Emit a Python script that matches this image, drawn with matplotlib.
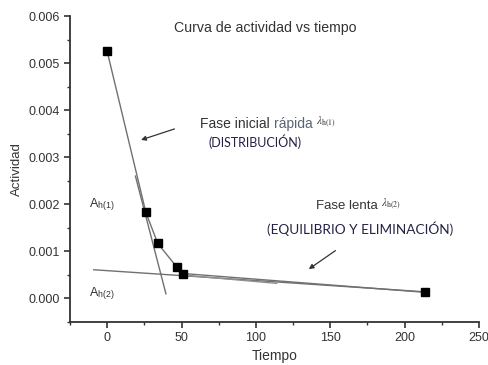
import numpy as np
import matplotlib.pyplot as plt
from matplotlib.ticker import MultipleLocator

# datos medidos
tiempo = [0, 26, 34, 47, 51, 214]
actividad = [0.00525, 0.00183, 0.00117, 0.00066, 0.00053, 0.00013]

# rectas de ajuste (fase rapida y fase lenta)
fase_rapida_t = [19, 39.5]
fase_rapida_a = [0.0026, 0.0001]
fase_lenta_t = [-9, 214]
fase_lenta_a = [0.00061, 0.00014]
fase_lenta2_t = [50, 114]
fase_lenta2_a = [0.00050, 0.00032]

plt.rcParams['font.family'] = ['Liberation Sans', 'DejaVu Sans']
plt.rcParams['mathtext.fontset'] = 'stix'

fig = plt.figure(figsize=(4.88, 3.65), dpi=100)
ax = fig.add_axes([0.1434, 0.1178, 0.9816 - 0.1434, 0.956 - 0.1178])

gris = '#707070'
ax.plot(tiempo, actividad, '-', color=gris, lw=1.0)
ax.plot(fase_rapida_t, fase_rapida_a, '-', color=gris, lw=1.0)
ax.plot(fase_lenta_t, fase_lenta_a, '-', color=gris, lw=1.0)
ax.plot(fase_lenta2_t, fase_lenta2_a, '-', color='#909090', lw=1.0)
ax.plot(tiempo, actividad, 's', color='black', ms=5.5, ls='none')

ax.set_xlim(-25, 250)
ax.set_ylim(-0.0005, 0.006)
ax.xaxis.set_major_locator(MultipleLocator(50))
ax.xaxis.set_minor_locator(MultipleLocator(25))
ax.yaxis.set_major_locator(MultipleLocator(0.001))
ax.yaxis.set_minor_locator(MultipleLocator(0.0005))
ax.yaxis.set_major_formatter(plt.FuncFormatter(lambda v, p: f'{v:.3f}'))

for s in ['top', 'right']:
    ax.spines[s].set_visible(False)
for s in ['left', 'bottom']:
    ax.spines[s].set_color('#333333')
    ax.spines[s].set_linewidth(1.3)
ax.tick_params(which='both', colors='#333333', labelsize=9, labelcolor='#333333')
ax.tick_params(which='major', length=4, width=1.2)
ax.tick_params(which='minor', length=2.5, width=1.0)

ax.set_xlabel('Tiempo', fontsize=10, color='#333333', labelpad=3)
ax.set_ylabel('Actividad', fontsize=9.5, color='#333333', labelpad=4)
fig.text(0.543, 0.912, 'Curva de actividad vs tiempo', fontsize=10.2, color='#333333',
         ha='center', va='baseline')

# anotaciones de las fases
t1 = fig.text(0.41, 0.649, 'Fase inicial ', fontsize=10, color='#333333', va='baseline')
t2 = ax.annotate('rápida ', xy=(1, 0), xycoords=t1, fontsize=10, color='#5a6474', va='bottom')
ax.annotate(r'$\lambda_{\mathrm{h(1)}}$', xy=(1, 0.05), xycoords=t2, fontsize=8, color='#333333', va='bottom')
fig.text(0.428, 0.597, '(DISTRIBUCIÓN)', family=['Lato', 'DejaVu Sans'], fontsize=9,
         color='#222244', va='baseline')

t3 = fig.text(0.6475, 0.427, 'Fase lenta ', fontsize=9.5, color='#333333', va='baseline')
ax.annotate(r'$\lambda_{\mathrm{h(2)}}$', xy=(1, 0.05), xycoords=t3, fontsize=8, color='#333333', va='bottom')
fig.text(0.547, 0.36, '(EQUILIBRIO Y ELIMINACIÓN)', family=['Lato', 'DejaVu Sans'], fontsize=9.8,
         color='#222244', va='baseline')

ax.annotate('', xy=(21, 0.00335), xytext=(47, 0.00362),
            arrowprops=dict(arrowstyle='-|>', color='#333333', lw=0.9, mutation_scale=7))
ax.annotate('', xy=(134, 0.00059), xytext=(155, 0.00105),
            arrowprops=dict(arrowstyle='-|>', color='#333333', lw=0.9, mutation_scale=7))

ax.text(-12, 0.0020, r'A$_{\mathregular{h(1)}}$', fontsize=9, color='#333333', va='center')
ax.text(-12, 0.0001, r'A$_{\mathregular{h(2)}}$', fontsize=9, color='#333333', va='center')

plt.savefig('out.png', dpi=100)
